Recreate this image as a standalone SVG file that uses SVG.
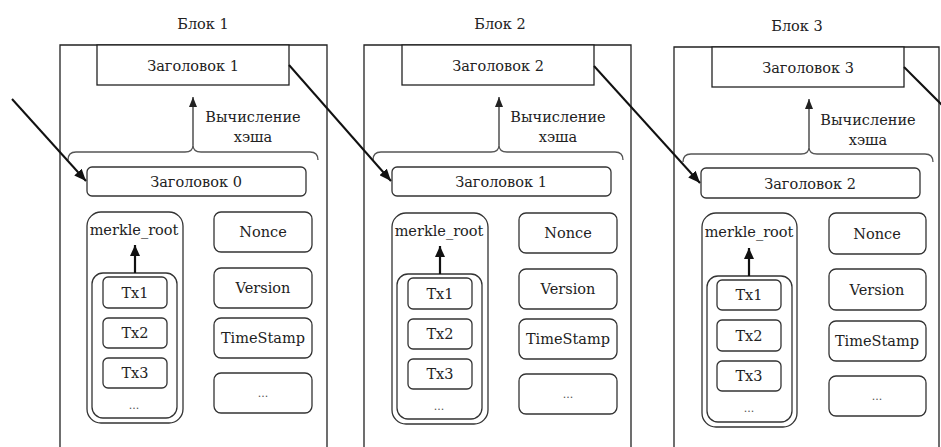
<svg xmlns="http://www.w3.org/2000/svg" width="941" height="447" viewBox="0 0 941 447">
<style>
text{font-family:"DejaVu Serif","Liberation Serif",serif;font-size:14.5px;fill:#222;text-anchor:middle;dominant-baseline:central}
.blk{fill:none;stroke:#222;stroke-width:1.3}
.hdr{fill:#fff;stroke:#222;stroke-width:1.3}
.rb{fill:#fff;stroke:#333;stroke-width:1.3}
.brace{fill:none;stroke:#555;stroke-width:1.3}
.hash{stroke:#333;stroke-width:1.3;fill:none}
.link{stroke:#111;stroke-width:2;fill:none}
.mk{stroke:#111;stroke-width:2.2;fill:none}
.dots{font-size:11px;fill:#555}
</style>
<defs>
<marker id="ah" markerUnits="userSpaceOnUse" viewBox="0 0 12 10" refX="12" refY="5" markerWidth="12" markerHeight="10" orient="auto"><path d="M0,0 L12,5 L0,10 z" fill="#111"/></marker>
<marker id="ahs" markerUnits="userSpaceOnUse" viewBox="0 0 10 8" refX="10" refY="4" markerWidth="10" markerHeight="8" orient="auto"><path d="M0,0 L10,4 L0,8 z" fill="#222"/></marker>
<marker id="ahm" markerUnits="userSpaceOnUse" viewBox="0 0 11 10" refX="11" refY="5" markerWidth="11" markerHeight="10" orient="auto"><path d="M0,0 L11,5 L0,10 z" fill="#111"/></marker>
</defs>

<g id="block1">
<text x="203" y="24">Блок 1</text>
<path class="blk" d="M60,447 V45 H327 V447"/>
<g id="b1-header"><rect class="hdr" x="97" y="45" width="192" height="40"/><text x="193" y="66">Заголовок 1</text></g>
<path class="brace" d="M68,160 Q68,152 76,152 H185 Q193,152 193,145 Q193,152 201,152 H310 Q318,152 318,160"/>
<text x="253" y="117">Вычисление</text>
<text x="253" y="137">хэша</text>
<g id="b1-prev"><rect class="rb" x="87" y="167" width="219" height="29" rx="5"/><text x="196" y="182">Заголовок 0</text></g>
<g id="b1-merkle"><rect class="rb" x="87" y="212" width="96" height="211" rx="14"/><text x="134" y="230">merkle_root</text>
<rect class="rb" x="92" y="273" width="85" height="145" rx="11"/>
<rect class="rb" x="103" y="277" width="64" height="31" rx="5"/><text x="135" y="293">Tx1</text>
<rect class="rb" x="103" y="318" width="64" height="30" rx="5"/><text x="135" y="333">Tx2</text>
<rect class="rb" x="103" y="358" width="64" height="30" rx="5"/><text x="135" y="373">Tx3</text>
<text class="dots" x="134" y="405">...</text></g>
<g id="b1-nonce"><rect class="rb" x="214" y="212" width="98" height="40" rx="7"/><text x="263" y="232">Nonce</text></g>
<g id="b1-version"><rect class="rb" x="214" y="268" width="98" height="40" rx="7"/><text x="263" y="288">Version</text></g>
<g id="b1-ts"><rect class="rb" x="214" y="318" width="98" height="40" rx="7"/><text x="263" y="338">TimeStamp</text></g>
<g id="b1-more"><rect class="rb" x="214" y="373" width="98" height="40" rx="7"/><text class="dots" x="263" y="393">...</text></g>
</g>

<g id="block2">
<text x="500" y="24">Блок 2</text>
<path class="blk" d="M364,447 V45 H631 V447"/>
<g id="b2-header"><rect class="hdr" x="402" y="45" width="192" height="40"/><text x="498" y="66">Заголовок 2</text></g>
<path class="brace" d="M373,160 Q373,152 381,152 H491 Q499,152 499,145 Q499,152 507,152 H615 Q623,152 623,160"/>
<text x="558" y="117">Вычисление</text>
<text x="558" y="137">хэша</text>
<g id="b2-prev"><rect class="rb" x="392" y="167" width="219" height="29" rx="5"/><text x="501" y="182">Заголовок 1</text></g>
<g id="b2-merkle"><rect class="rb" x="392" y="213" width="96" height="211" rx="14"/><text x="439" y="231">merkle_root</text>
<rect class="rb" x="397" y="274" width="85" height="145" rx="11"/>
<rect class="rb" x="408" y="278" width="64" height="31" rx="5"/><text x="440" y="294">Tx1</text>
<rect class="rb" x="408" y="319" width="64" height="30" rx="5"/><text x="440" y="334">Tx2</text>
<rect class="rb" x="408" y="359" width="64" height="30" rx="5"/><text x="440" y="374">Tx3</text>
<text class="dots" x="439" y="406">...</text></g>
<g id="b2-nonce"><rect class="rb" x="519" y="213" width="98" height="40" rx="7"/><text x="568" y="233">Nonce</text></g>
<g id="b2-version"><rect class="rb" x="519" y="269" width="98" height="40" rx="7"/><text x="568" y="289">Version</text></g>
<g id="b2-ts"><rect class="rb" x="519" y="319" width="98" height="40" rx="7"/><text x="568" y="339">TimeStamp</text></g>
<g id="b2-more"><rect class="rb" x="519" y="374" width="98" height="40" rx="7"/><text class="dots" x="568" y="394">...</text></g>
</g>

<g id="block3">
<text x="797" y="26">Блок 3</text>
<path class="blk" d="M674,447 V47 H939 V447"/>
<g id="b3-header"><rect class="hdr" x="712" y="47" width="192" height="40"/><text x="808" y="68">Заголовок 3</text></g>
<path class="brace" d="M683,162 Q683,154 691,154 H801 Q809,154 809,147 Q809,154 817,154 H925 Q933,154 933,162"/>
<text x="868" y="120">Вычисление</text>
<text x="868" y="140">хэша</text>
<g id="b3-prev"><rect class="rb" x="701" y="168" width="219" height="30" rx="5"/><text x="810" y="184">Заголовок 2</text></g>
<g id="b3-merkle"><rect class="rb" x="702" y="213" width="95" height="214" rx="14"/><text x="749" y="232">merkle_root</text>
<rect class="rb" x="707" y="276" width="85" height="146" rx="11"/>
<rect class="rb" x="717" y="280" width="64" height="30" rx="5"/><text x="749" y="295">Tx1</text>
<rect class="rb" x="717" y="320" width="64" height="31" rx="5"/><text x="749" y="336">Tx2</text>
<rect class="rb" x="717" y="361" width="64" height="30" rx="5"/><text x="749" y="376">Tx3</text>
<text class="dots" x="749" y="408">...</text></g>
<g id="b3-nonce"><rect class="rb" x="829" y="213" width="97" height="41" rx="7"/><text x="877" y="234">Nonce</text></g>
<g id="b3-version"><rect class="rb" x="829" y="269" width="97" height="41" rx="7"/><text x="877" y="290">Version</text></g>
<g id="b3-ts"><rect class="rb" x="829" y="321" width="97" height="40" rx="7"/><text x="877" y="341">TimeStamp</text></g>
<g id="b3-more"><rect class="rb" x="829" y="376" width="97" height="40" rx="7"/><text class="dots" x="877" y="396">...</text></g>
</g>

<g id="connectors">
<line class="hash" x1="193" y1="145" x2="193" y2="97" marker-end="url(#ahs)"/>
<line class="hash" x1="499" y1="145" x2="499" y2="97" marker-end="url(#ahs)"/>
<line class="hash" x1="809" y1="147" x2="809" y2="99" marker-end="url(#ahs)"/>
<line class="mk" x1="135" y1="273" x2="135" y2="245" marker-end="url(#ahm)"/>
<line class="mk" x1="440" y1="274" x2="440" y2="246" marker-end="url(#ahm)"/>
<line class="mk" x1="749" y1="276" x2="749" y2="248" marker-end="url(#ahm)"/>
<line class="link" x1="12" y1="99" x2="86" y2="181" marker-end="url(#ah)"/>
<line class="link" x1="289" y1="65" x2="391" y2="181" marker-end="url(#ah)"/>
<line class="link" x1="594" y1="66" x2="700" y2="183" marker-end="url(#ah)"/>
<line class="link" x1="904" y1="67" x2="945" y2="108"/>
</g>
</svg>
